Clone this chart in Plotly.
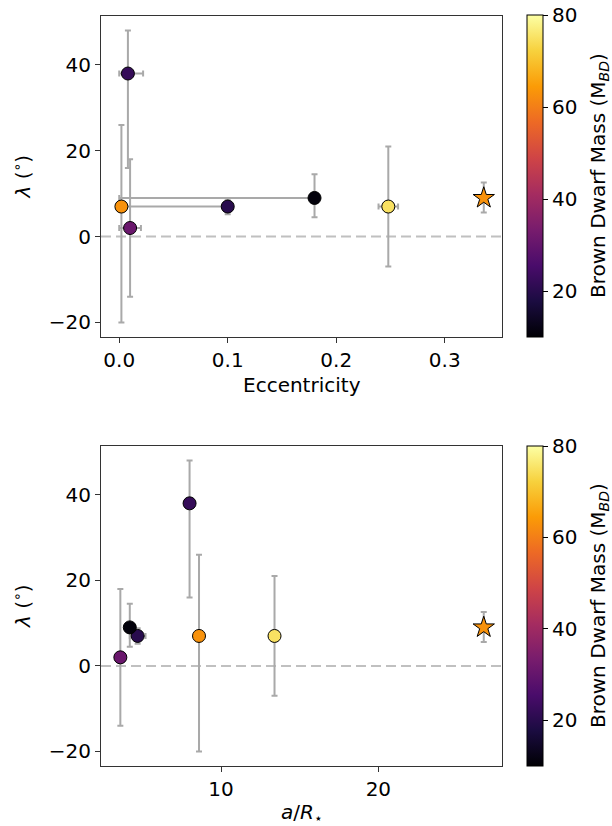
import plotly.graph_objects as go

# ---- data ----
ecc        = [0.008, 0.002, 0.010, 0.100, 0.180, 0.248]
ecc_plus   = [0.014, 0.000, 0.010, 0.000, 0.000, 0.009]
ecc_minus  = [0.008, 0.002, 0.010, 0.100, 0.180, 0.009]
a_rs       = [8.0, 8.6, 3.6, 4.7, 4.2, 13.4]
a_plus     = [0.0, 0.0, 0.0, 0.5, 0.0, 0.0]
a_minus    = [0.0, 0.0, 0.0, 0.5, 0.0, 0.0]
lam        = [38, 7, 2, 7, 9, 7]
lam_plus   = [10, 19, 16, 1.8, 5.5, 14]
lam_minus  = [22, 27, 16, 1.8, 4.5, 14]
mass       = [22, 63, 31, 20, 11, 75]

# new object (star)
star_ecc   = [0.336]
star_a     = [26.7]
star_lam   = [9]
star_lam_p = [3.6]
star_lam_m = [3.4]
star_mass  = [63]

cmin, cmax = 10, 80
cb_ticks = [20, 40, 60, 80]
y_ticks = [-20, 0, 20, 40]
y_range = [-23.4, 51.4]

W, H = 612, 826
FONT = "DejaVu Sans"
FS = 20
ERR_COL = "#a9a9a9"

def px_x(p):
    return p / W

def px_y(p):
    return 1 - p / H

fig = go.Figure()

def add_panel(xv, xp, xm, sx, xa, ya, cb_y0, cb_y1):
    fig.add_trace(go.Scatter(
        x=xv, y=lam, mode="markers", xaxis=xa, yaxis=ya,
        error_x=dict(type="data", symmetric=False, array=xp, arrayminus=xm,
                     color=ERR_COL, thickness=2, width=3),
        error_y=dict(type="data", symmetric=False, array=lam_plus, arrayminus=lam_minus,
                     color=ERR_COL, thickness=2, width=3),
        marker=dict(size=13, color=mass, colorscale="Inferno", cmin=cmin, cmax=cmax,
                    line=dict(color="black", width=1),
                    colorbar=dict(
                        x=px_x(527), xanchor="left", xpad=0, ypad=0,
                        y=(px_y(cb_y0) + px_y(cb_y1)) / 2, yanchor="middle",
                        len=(cb_y1 - cb_y0) / H, lenmode="fraction",
                        thickness=16, outlinewidth=1, outlinecolor="black",
                        tickvals=cb_ticks, ticks="outside", ticklen=5, tickwidth=1,
                        tickcolor="black",
                        tickfont=dict(family=FONT, size=FS, color="black"),
                    )),
        showlegend=False,
    ))
    fig.add_trace(go.Scatter(
        x=sx, y=star_lam, mode="markers", xaxis=xa, yaxis=ya,
        error_y=dict(type="data", symmetric=False, array=star_lam_p, arrayminus=star_lam_m,
                     color=ERR_COL, thickness=2, width=3),
        marker=dict(size=16, symbol="star", color=star_mass, colorscale="Inferno",
                    cmin=cmin, cmax=cmax, line=dict(color="black", width=1)),
        showlegend=False,
    ))
    # colorbar title
    fig.add_annotation(text="Brown Dwarf Mass (M<sub><i>BD</i></sub>)",
                       xref="paper", yref="paper", x=px_x(599),
                       y=(px_y(cb_y0) + px_y(cb_y1)) / 2,
                       xanchor="center", yanchor="middle", textangle=-90,
                       showarrow=False, font=dict(family=FONT, size=FS, color="black"))

add_panel(ecc, ecc_plus, ecc_minus, star_ecc, "x", "y", 15, 337)
add_panel(a_rs, a_plus, a_minus, star_a, "x2", "y2", 446, 766)

axis_common = dict(
    showline=True, mirror=True, linecolor="#333333", linewidth=1,
    ticks="outside", ticklen=5, tickwidth=1, tickcolor="#333333",
    showgrid=False, zeroline=False,
    tickfont=dict(family=FONT, size=FS, color="black"),
)

xdom = [px_x(101), px_x(502)]
fig.update_layout(
    width=W, height=H,
    margin=dict(l=0, r=0, t=0, b=0),
    paper_bgcolor="white", plot_bgcolor="white",
    font=dict(family=FONT, size=FS, color="black"),
    xaxis=dict(domain=xdom, anchor="y", range=[-0.0168, 0.3528],
               tickvals=[0.0, 0.1, 0.2, 0.3], tickformat=".1f", **axis_common),
    yaxis=dict(domain=[px_y(337), px_y(16)], anchor="x", range=y_range,
               tickvals=y_ticks, **axis_common),
    xaxis2=dict(domain=xdom, anchor="y2", range=[2.37, 27.86],
                tickvals=[10, 20], **axis_common),
    yaxis2=dict(domain=[px_y(766), px_y(446)], anchor="x2", range=y_range,
                tickvals=y_ticks, **axis_common),
)

xc = px_x((101 + 502) / 2)
for txt, ypx in [("Eccentricity", 385), ("<i>a</i>/<i>R</i><sub>⋆</sub>", 813)]:
    fig.add_annotation(text=txt, xref="paper", yref="paper", x=xc, y=px_y(ypx),
                       xanchor="center", yanchor="middle", showarrow=False,
                       font=dict(family=FONT, size=FS, color="black"))
for y0, y1 in [(16, 337), (446, 766)]:
    fig.add_annotation(text="<i>λ</i> (<sup>∘</sup>)", xref="paper", yref="paper",
                       x=px_x(22), y=(px_y(y0) + px_y(y1)) / 2,
                       xanchor="center", yanchor="middle", textangle=-90,
                       showarrow=False, font=dict(family=FONT, size=FS, color="black"))

for xr, yr in [("x domain", "y"), ("x2 domain", "y2")]:
    fig.add_shape(type="line", xref=xr, yref=yr, x0=0, x1=1, y0=0, y1=0,
                  line=dict(color="#c0c0c0", width=2, dash="10px,5px"), layer="below")

fig.write_html("out.html", config={"displayModeBar": False},
               post_script="document.body.style.margin='0';document.body.style.overflow='hidden';")
